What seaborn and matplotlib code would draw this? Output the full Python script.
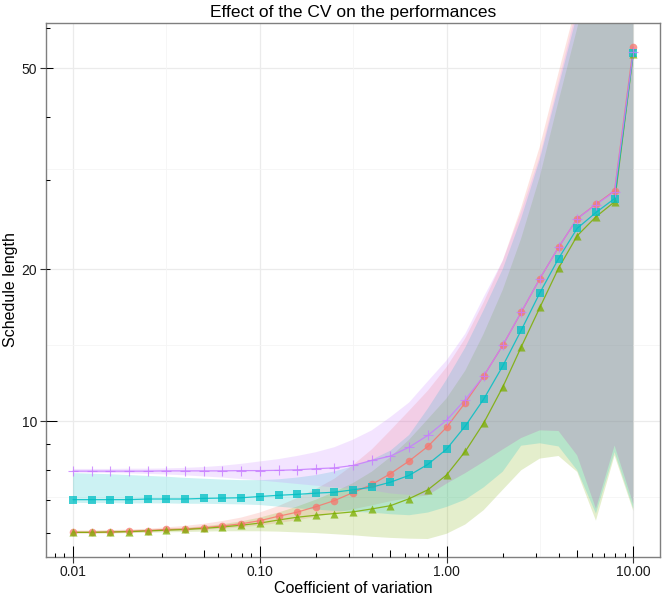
import numpy as np
import pandas as pd
import matplotlib
matplotlib.use("Agg")
import matplotlib.pyplot as plt
import seaborn as sns

# ---------------- data ----------------
cv = [0.01, 0.0126, 0.0158, 0.02, 0.0251, 0.0316, 0.0398, 0.0501, 0.0631, 0.0794,
      0.1, 0.126, 0.158, 0.2, 0.251, 0.316, 0.398, 0.501, 0.631, 0.794,
      1.0, 1.26, 1.58, 2.0, 2.51, 3.16, 3.98, 5.01, 6.31, 7.94, 10.0]

methods = ["A", "B", "C", "D"]

red_mean = [6.03, 6.03, 6.04, 6.06, 6.08, 6.11, 6.12, 6.16, 6.21, 6.27, 6.36, 6.49, 6.61, 6.78, 6.97,
            7.23, 7.50, 7.88, 8.35, 8.92, 9.73, 10.89, 12.29, 14.14, 16.43, 19.16, 22.1, 25.2, 26.9, 28.6, 55.0]
green_mean = [6.03, 6.03, 6.04, 6.05, 6.07, 6.09, 6.11, 6.14, 6.18, 6.23, 6.29, 6.38, 6.46, 6.52, 6.57,
              6.62, 6.71, 6.81, 7.03, 7.32, 7.83, 8.72, 9.92, 11.69, 14.03, 16.8, 20.1, 23.3, 25.4, 27.2, 53.4]
cyan_mean = [7.0, 7.0, 7.0, 7.0, 7.02, 7.02, 7.02, 7.04, 7.05, 7.06, 7.10, 7.14, 7.17, 7.21, 7.24,
             7.32, 7.41, 7.58, 7.82, 8.22, 8.81, 9.79, 11.06, 12.87, 15.14, 17.96, 21.0, 24.1, 25.9, 27.6, 53.6]
purple_mean = [7.97, 7.97, 7.97, 7.97, 7.97, 7.98, 7.98, 7.98, 7.98, 7.99, 7.99, 8.0, 8.02, 8.06, 8.09,
               8.18, 8.37, 8.54, 8.89, 9.38, 10.05, 11.04, 12.29, 14.14, 16.45, 19.16, 22.1, 25.2, 26.85, 28.5, 53.9]

red_lo = [6.0, 6.0, 6.01, 6.02, 6.04, 6.06, 6.08, 6.1, 6.13, 6.17, 6.22, 6.29, 6.37, 6.47, 6.58,
          6.7, 6.82, 6.95, 7.05, 7.14, 7.53, 7.9, 8.32, 8.8, 9.27, 9.6, 9.57, 8.56, 6.72, 8.96, 6.87]
red_hi = [6.08, 6.08, 6.09, 6.11, 6.13, 6.17, 6.21, 6.27, 6.35, 6.45, 6.6, 6.8, 7.05, 7.35, 7.7,
          8.2, 8.8, 9.6, 10.5, 11.5, 12.8, 14.6, 17.2, 20.8, 26.5, 35, 49, 68, 95, 130, 175]
green_lo = [6.0, 6.0, 6.0, 6.01, 6.02, 6.03, 6.04, 6.05, 6.06, 6.06, 6.06, 6.05, 6.03, 6.01, 5.98,
            5.95, 5.91, 5.88, 5.86, 5.85, 5.99, 6.25, 6.67, 7.32, 8.0, 8.44, 8.54, 7.94, 6.36, 8.56, 6.65]
green_hi = [6.07, 6.07, 6.08, 6.09, 6.11, 6.13, 6.16, 6.2, 6.26, 6.34, 6.45, 6.6, 6.78, 7.0, 7.25,
            7.55, 7.95, 8.5, 9.2, 10.1, 11.1, 12.6, 14.9, 18.2, 23.0, 30.5, 43, 60, 84, 115, 160]
cyan_lo = [6.9, 6.89, 6.89, 6.88, 6.88, 6.88, 6.87, 6.87, 6.86, 6.85, 6.83, 6.78, 6.73, 6.69, 6.65,
           6.62, 6.6, 6.55, 6.52, 6.6, 6.77, 7.0, 7.4, 7.95, 8.95, 9.05, 8.92, 8.0, 6.57, 8.69, 6.72]
cyan_hi = [7.9, 7.88, 7.86, 7.83, 7.8, 7.77, 7.73, 7.7, 7.67, 7.65, 7.65, 7.68, 7.74, 7.83, 7.96,
           8.15, 8.4, 8.75, 9.4, 10.6, 12.1, 14.0, 16.6, 20.0, 25.2, 33, 46, 64, 88, 120, 165]
purple_lo = [7.92, 7.91, 7.9, 7.89, 7.87, 7.85, 7.82, 7.78, 7.74, 7.69, 7.64, 7.58, 7.52, 7.46, 7.4,
             7.35, 7.3, 7.2, 7.15, 7.14, 7.53, 7.9, 8.32, 8.8, 9.27, 9.6, 9.57, 8.56, 6.72, 8.96, 6.87]
purple_hi = [8.05, 8.05, 8.05, 8.06, 8.06, 8.07, 8.09, 8.12, 8.17, 8.24, 8.33, 8.42, 8.54, 8.69, 8.89,
             9.2, 9.6, 10.2, 10.9, 12.0, 13.2, 14.9, 17.6, 20.8, 26, 33.5, 47, 66, 92, 125, 170]

x_ticks = [0.01, 0.1, 1, 10]
x_tick_labels = ["0.01", "0.10", "1.00", "10.00"]
y_ticks = [10, 20, 50]
y_tick_labels = ["10", "20", "50"]

colors = ["#F8766D", "#7CAE00", "#00BFC4", "#C77CFF"]
markers = ["o", "^", "s", "+"]
means = [red_mean, green_mean, cyan_mean, purple_mean]
lows = [red_lo, green_lo, cyan_lo, purple_lo]
highs = [red_hi, green_hi, cyan_hi, purple_hi]

df = pd.concat([pd.DataFrame({"cv": cv, "length": m, "method": name})
                for name, m in zip(methods, means)], ignore_index=True)

# ---------------- style ----------------
sns.set_style("white")
plt.rcParams["font.family"] = ["Liberation Sans", "DejaVu Sans"]

W, H = 662, 596
fig = plt.figure(figsize=(W / 100, H / 100), dpi=100)
L, R, T, B = 45.7, 660.0, 22.7, 557.0
ax = fig.add_axes([L / W, 1 - B / H, (R - L) / W, (B - T) / H])

ax.set_xscale("log")
ax.set_yscale("log")
xlim = (0.00714, 13.9)
ylim = (5.39, 61.5)

# grid
for v in x_ticks:
    ax.axvline(v, color="#EBEBEB", lw=0.9, zorder=0)
for v in y_ticks:
    ax.axhline(v, color="#EBEBEB", lw=0.9, zorder=0)
for v in [0.0316, 0.316, 3.16]:
    ax.axvline(v, color="#F5F5F5", lw=0.6, zorder=0)
for v in [7.07, 14.14, 31.6]:
    ax.axhline(v, color="#F5F5F5", lw=0.6, zorder=0)

# ribbons
for c, lo, hi in zip(colors, lows, highs):
    ax.fill_between(cv, lo, hi, color=c, alpha=0.2, lw=0, zorder=1)

# lines
sns.lineplot(data=df, x="cv", y="length", hue="method", palette=colors,
             estimator=None, legend=False, linewidth=0.9, alpha=0.85, ax=ax, zorder=2)

# points
for name, c, mk, m in zip(methods, colors, markers, means):
    if mk == "+":
        sns.scatterplot(x=cv, y=m, marker=mk, color=c, s=55, linewidth=0.8,
                        alpha=0.8, ax=ax, zorder=3)
    else:
        size = 30 if mk != "^" else 34
        sns.scatterplot(x=cv, y=m, marker=mk, color=c, s=size, linewidth=0,
                        alpha=0.75, ax=ax, zorder=3)

ax.set_xlim(*xlim)
ax.set_ylim(*ylim)

# ticks
ax.xaxis.set_major_locator(matplotlib.ticker.FixedLocator(x_ticks))
ax.xaxis.set_major_formatter(matplotlib.ticker.FixedFormatter(x_tick_labels))
ax.yaxis.set_major_locator(matplotlib.ticker.FixedLocator(y_ticks))
ax.yaxis.set_major_formatter(matplotlib.ticker.FixedFormatter(y_tick_labels))
ax.xaxis.set_minor_locator(matplotlib.ticker.NullLocator())
ax.yaxis.set_minor_locator(matplotlib.ticker.NullLocator())
ax.tick_params(axis="both", which="major", direction="out", length=4, width=0.8,
               color="#333333", labelcolor="#1a1a1a", labelsize=10, pad=2,
               bottom=True, left=True)

for s in ax.spines.values():
    s.set_color("#7F7F7F")
    s.set_linewidth(1.0)

# log ticks (inside)
pw, ph = (R - L), (B - T)
long_l, mid_l, short_l = 11.0, 7.5, 4.0
xt = ax.get_xaxis_transform()
yt = ax.get_yaxis_transform()
for d in [0.001, 0.01, 0.1, 1, 10]:
    for mlt in range(1, 10):
        v = d * mlt
        if xlim[0] <= v <= xlim[1]:
            ln = long_l if mlt == 1 else (mid_l if mlt == 5 else short_l)
            ax.plot([v, v], [0, ln / ph], transform=xt, color="black", lw=0.75,
                    clip_on=False, zorder=5, solid_capstyle="butt")
        if ylim[0] <= v <= ylim[1]:
            ln = long_l if mlt == 1 else (mid_l if mlt == 5 else short_l)
            ax.plot([0, ln / pw], [v, v], transform=yt, color="black", lw=0.75,
                    clip_on=False, zorder=5, solid_capstyle="butt")

ax.set_title("Effect of the CV on the performances", fontsize=12.5, pad=4, color="black")
ax.set_xlabel("Coefficient of variation", fontsize=11.5, labelpad=1, color="black")
ax.set_ylabel("Schedule length", fontsize=11.5, labelpad=3, color="black")

fig.savefig("out.png", dpi=100)
